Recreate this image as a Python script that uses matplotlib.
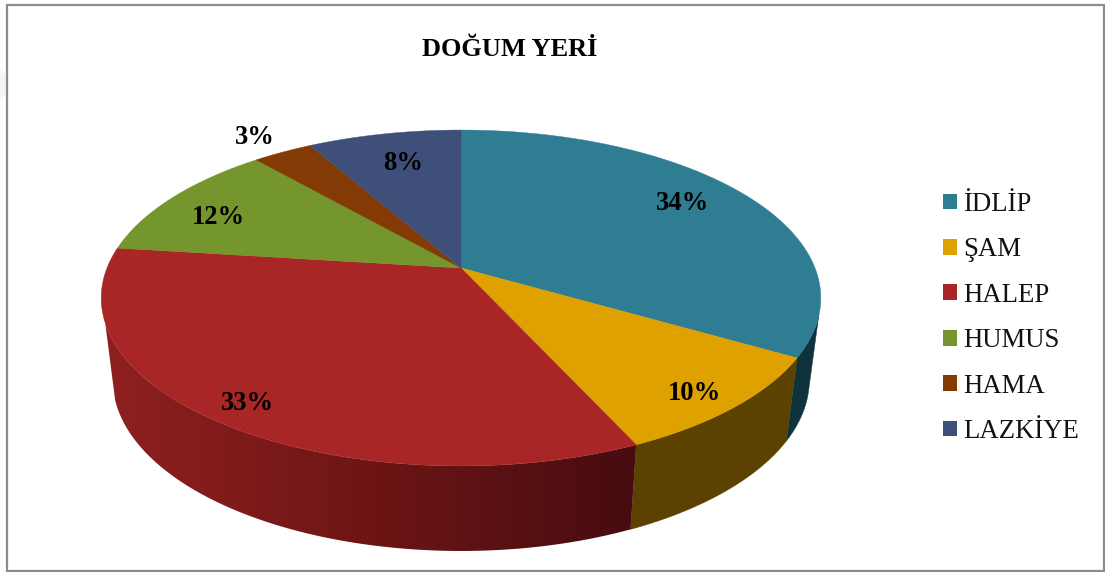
import numpy as np
import matplotlib
matplotlib.use("Agg")
import matplotlib.pyplot as plt
from matplotlib.patches import Polygon, Rectangle, Patch

# data
cities = ["İDLİP", "ŞAM", "HALEP", "HUMUS", "HAMA", "LAZKİYE"]
shares = [33.4, 9.8, 33.8, 11.6, 3.2, 8.2]
pct_labels = ["34%", "10%", "33%", "12%", "3%", "8%"]

colors = ["#2e7d92", "#dfa100", "#a82626", "#74962c", "#843a05", "#3e4f7a"]
label_pos = [(683, 204), (695, 394), (248, 403), (218, 218), (255, 138), (403, 163)]

plt.rcParams["font.family"] = ["Liberation Serif", "DejaVu Serif"]

# pie geometry in pixels, tilted circle with some perspective
cx, cy = 461, 268
a, b, k = 354, 162.6, 0.1786


def rim(t):
    u, v = np.sin(t), np.cos(t)
    d = 1 + k * v
    return cx + a * u / d, cy - b * v / d


def low_rim(t):
    x, y = rim(t)
    return cx + 0.968 * (x - cx), 380 + 1.018 * (y - 298)


def find_t(func, y_wanted, t_from, t_to):
    ts = np.linspace(t_from, t_to, 2000)
    return ts[np.argmin(np.abs(func(ts)[1] - y_wanted))]


fig = plt.figure(figsize=(11.05, 5.72), dpi=100)
ax = fig.add_axes([0, 0, 1, 1])
ax.axis("off")

ax.add_patch(Polygon([(0, 68), (8, 78), (8, 92), (0, 100)], fc="#f5f5f5", ec="none", zorder=1))
ax.add_patch(Rectangle((7, 5), 1096.5, 566, fc="white", ec="#8c8c8c", lw=1.6, zorder=1))

edges = np.radians(np.concatenate([[0], np.cumsum(shares)]) * 3.6)

# red side goes darker to the right
grad_x = np.linspace(100, 640, 270)
grad = np.column_stack([np.interp(grad_x, [110, 390, 630], [0.56, 0.42, 0.28]),
                        np.interp(grad_x, [110, 390, 630], [0.125, 0.08, 0.047]),
                        np.interp(grad_x, [110, 390, 630], [0.125, 0.08, 0.063])])[np.newaxis, :, :]

# side walls, the straight silhouette edges join the two rims at left and right
r_top = find_t(rim, 316, np.pi / 4, np.pi * 0.75)
r_low = find_t(low_rim, 393, np.pi / 4, np.pi * 0.75)
l_top = find_t(rim, 323, np.pi * 1.25, np.pi * 1.75)
l_low = find_t(low_rim, 400, np.pi * 1.25, np.pi * 1.75)


def wall(t0_top, t1_top, t0_low, t1_low):
    xs, ys = rim(np.linspace(t0_top, t1_top, 150))
    lx, ly = low_rim(np.linspace(t1_low, t0_low, 150))
    return list(zip(xs, ys)) + list(zip(lx, ly))


ax.add_patch(Polygon(wall(r_top, edges[1], r_low, edges[1]), fc="#0f323c", ec="#0f323c", lw=0.3, zorder=1.5))
ax.add_patch(Polygon(wall(edges[1], edges[2], edges[1], edges[2]), fc="#5c4200", ec="#5c4200", lw=0.3, zorder=1.5))
poly = Polygon(wall(edges[2], l_top, edges[2], l_low), fc="none", ec="none")
ax.add_patch(poly)
im = ax.imshow(grad, extent=(100, 640, 560, 200), aspect="auto", zorder=1.5)
im.set_clip_path(poly)

ax.set_xlim(0, 1105)
ax.set_ylim(572, 0)

# top face
handles = []
for i in range(len(shares)):
    ts = np.linspace(edges[i], edges[i + 1], 150)
    xs, ys = rim(ts)
    pts = [(cx, cy)] + list(zip(xs, ys))
    ax.add_patch(Polygon(pts, fc=colors[i], ec=colors[i], lw=0.3, zorder=2))
    handles.append(Patch(fc=colors[i], ec="none", label=cities[i]))

for txt, (x, y) in zip(pct_labels, label_pos):
    ax.text(x, y, txt, ha="center", va="center", fontsize=19.2, fontweight="bold", color="black", zorder=3)

ax.text(510, 50, "DOĞUM YERİ", ha="center", va="center", fontsize=19, fontweight="bold", color="black", zorder=3)

ax.legend(handles=handles, loc="center left", bbox_to_anchor=(943, 318), bbox_transform=ax.transData,
          frameon=False, fontsize=19.3, handlelength=0.53, handleheight=0.53, handletextpad=0.22,
          labelspacing=0.76, labelcolor="#111111", borderpad=0, borderaxespad=0)

fig.savefig("out.png", dpi=100)
